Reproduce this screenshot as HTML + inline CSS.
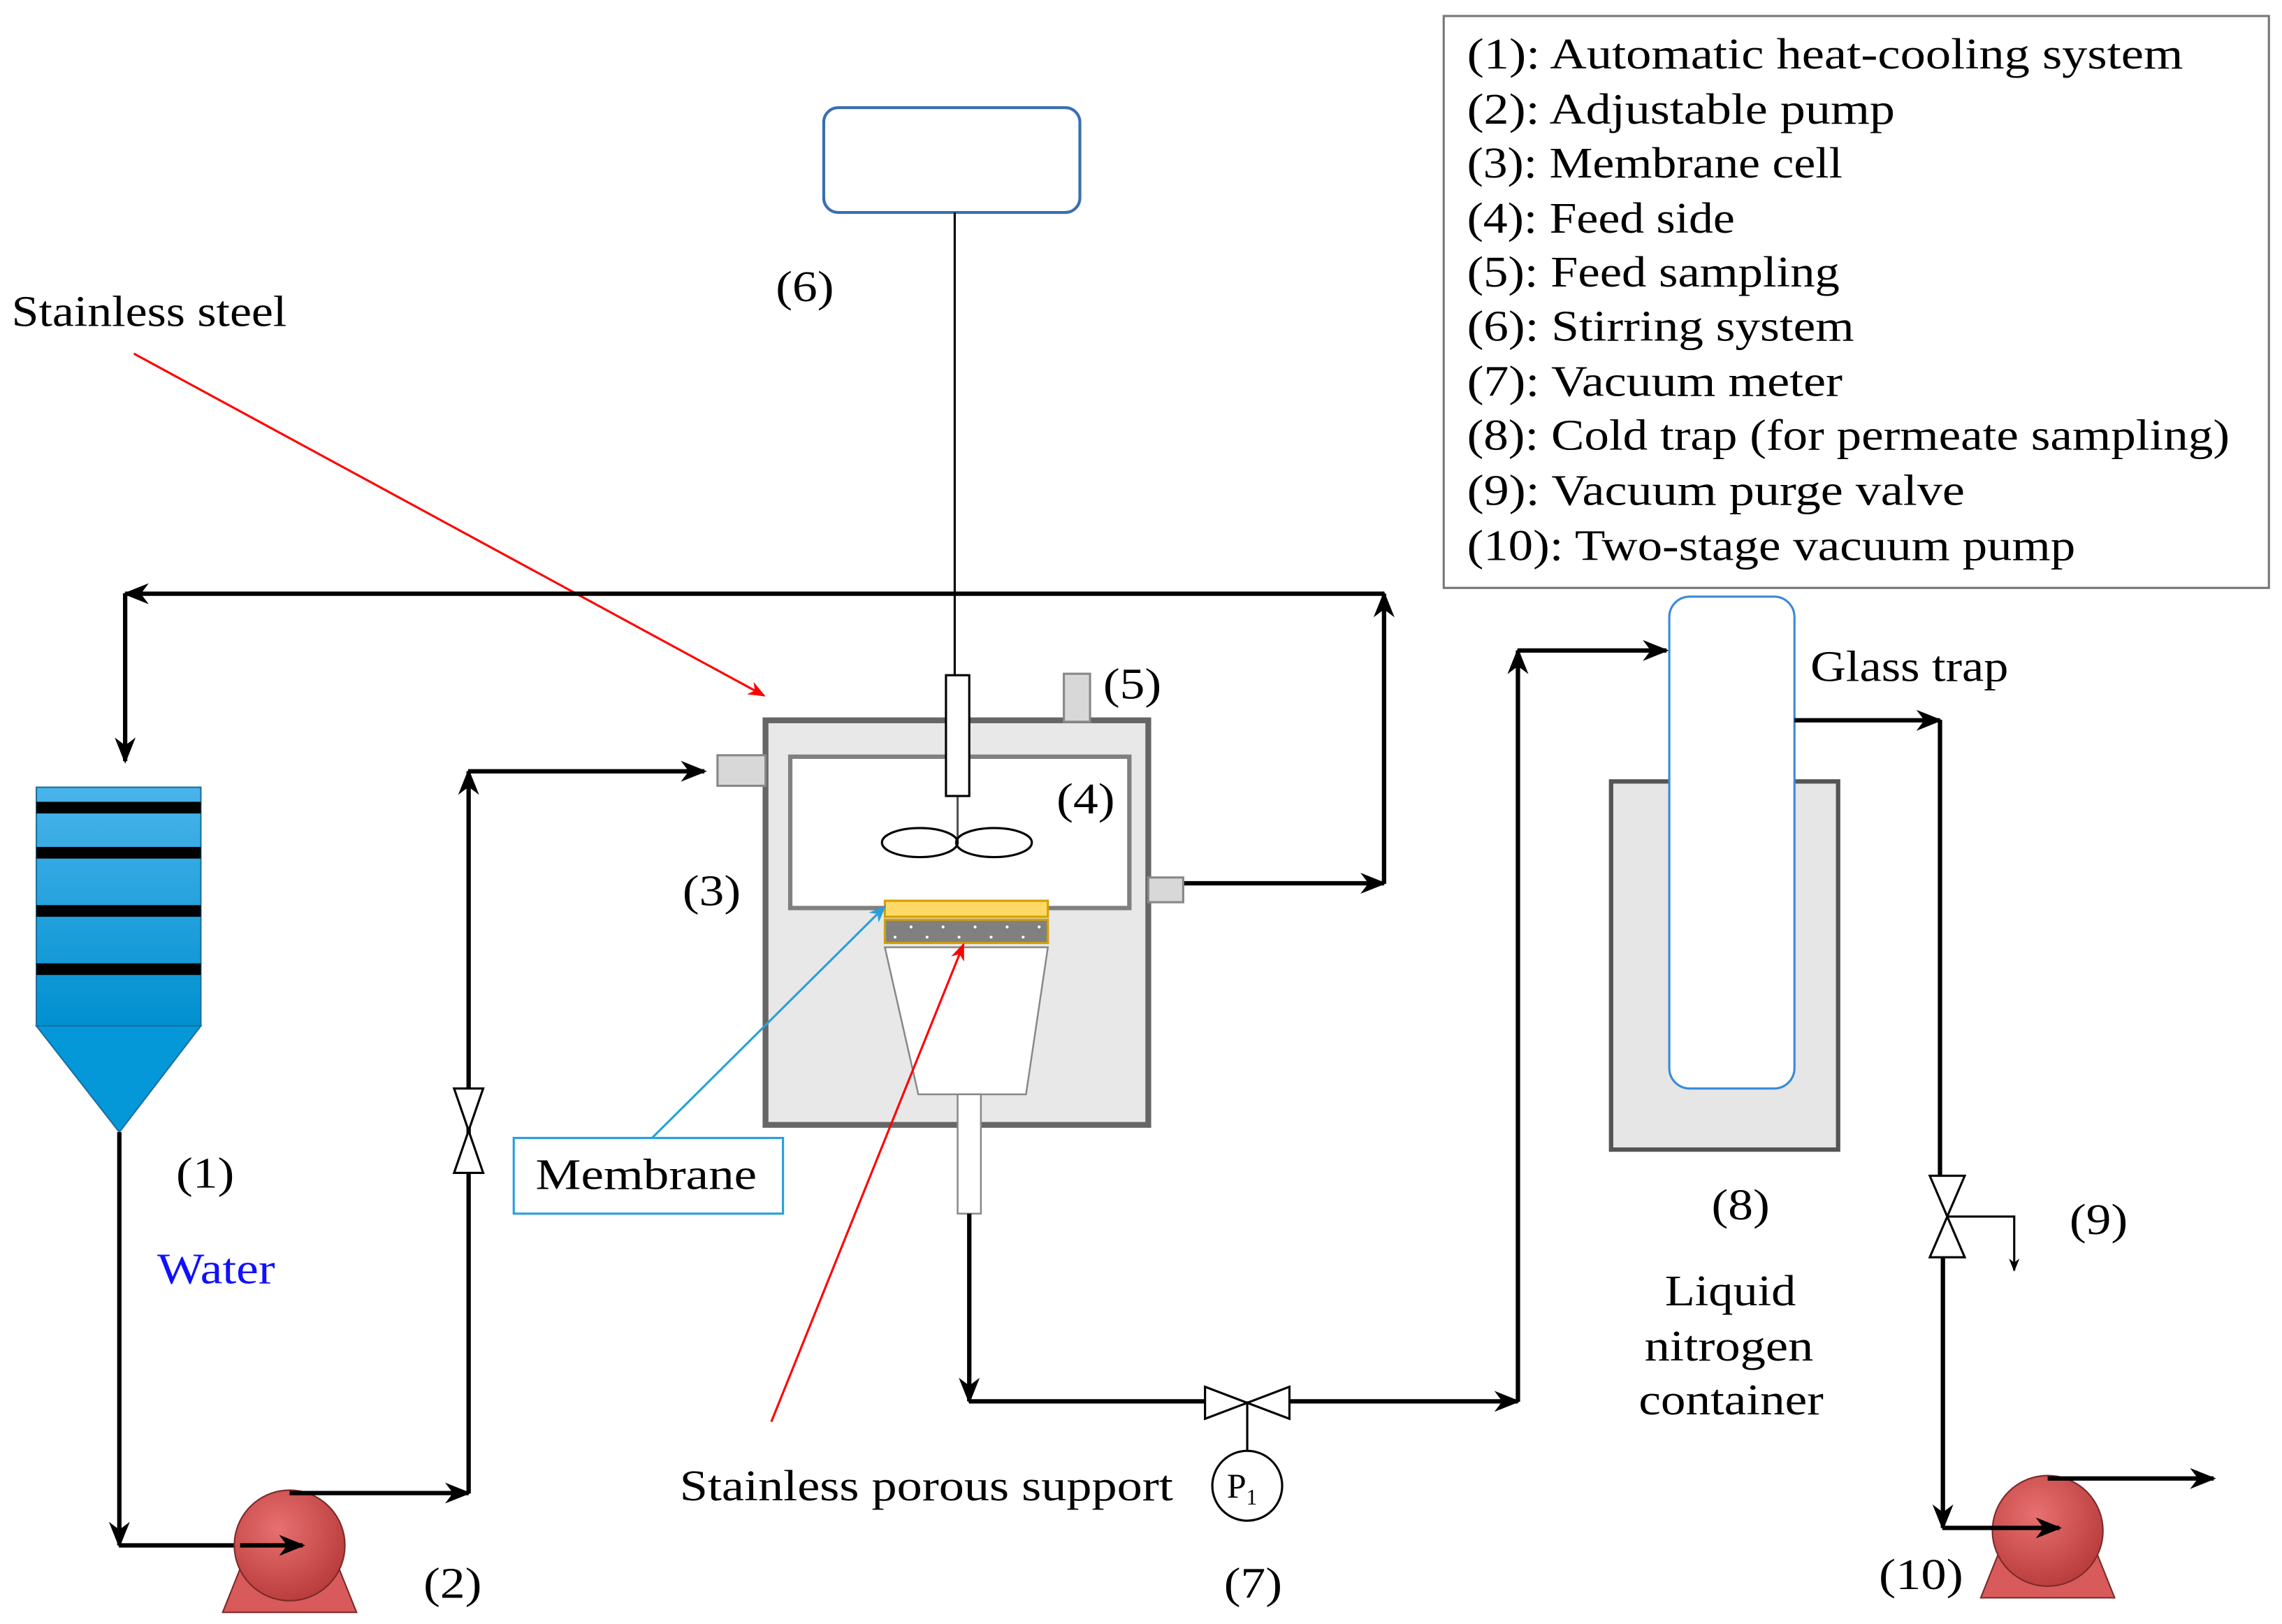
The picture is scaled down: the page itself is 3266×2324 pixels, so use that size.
<!DOCTYPE html>
<html><head><meta charset="utf-8"><style>
html,body{margin:0;padding:0;background:#fff;}
svg{display:block;}
text{font-family:"Liberation Serif",serif;font-size:30px;fill:#000;}
</style></head><body>
<svg width="3266" height="2324" viewBox="0 0 1568 1116" preserveAspectRatio="none" xmlns="http://www.w3.org/2000/svg">
<defs>
<marker id="ab" viewBox="0 0 10 10" refX="9" refY="5" markerWidth="6" markerHeight="6" orient="auto"><path d="M0,1 L10,5 L0,9 L3,5z" fill="#000"/></marker>
<marker id="ar" viewBox="0 0 10 10" refX="9" refY="5" markerWidth="8" markerHeight="8" orient="auto"><path d="M0,1 L10,5 L0,9 L3,5z" fill="#f00"/></marker>
<marker id="abl" viewBox="0 0 10 10" refX="9" refY="5" markerWidth="8" markerHeight="8" orient="auto"><path d="M0,1 L10,5 L0,9 L3,5z" fill="#29a0dc"/></marker>
<linearGradient id="blue" x1="0" y1="0" x2="0" y2="1"><stop offset="0" stop-color="#4ab4ea"/><stop offset="1" stop-color="#0090d0"/></linearGradient>
<radialGradient id="pump" cx="0.4" cy="0.35" r="0.7"><stop offset="0" stop-color="#e87070"/><stop offset="1" stop-color="#b83a3a"/></radialGradient>
</defs>

<!-- legend -->
<rect x="992" y="11" width="567" height="393" fill="#fff" stroke="#777" stroke-width="1.5"/>
<g lengthAdjust="spacingAndGlyphs">
<text x="1008" y="47" textLength="492" lengthAdjust="spacingAndGlyphs">(1): Automatic heat-cooling  system</text>
<text x="1008" y="85" textLength="294" lengthAdjust="spacingAndGlyphs">(2): Adjustable pump</text>
<text x="1008" y="122" textLength="258" lengthAdjust="spacingAndGlyphs">(3): Membrane cell</text>
<text x="1008" y="160" textLength="184" lengthAdjust="spacingAndGlyphs">(4): Feed side</text>
<text x="1008" y="197" textLength="256" lengthAdjust="spacingAndGlyphs">(5): Feed sampling</text>
<text x="1008" y="234" textLength="266" lengthAdjust="spacingAndGlyphs">(6): Stirring system</text>
<text x="1008" y="272" textLength="258" lengthAdjust="spacingAndGlyphs">(7): Vacuum meter</text>
<text x="1008" y="309" textLength="524" lengthAdjust="spacingAndGlyphs">(8): Cold  trap  (for permeate sampling)</text>
<text x="1008" y="347" textLength="342" lengthAdjust="spacingAndGlyphs">(9): Vacuum purge valve</text>
<text x="1008" y="385" textLength="418" lengthAdjust="spacingAndGlyphs">(10): Two-stage vacuum pump</text>
</g>

<!-- stirrer -->
<rect x="566" y="74" width="176" height="72" rx="10" fill="#fff" stroke="#3a6fb0" stroke-width="2"/>
<line x1="656" y1="146" x2="656" y2="464" stroke="#000" stroke-width="1.5"/>
<text x="533" y="207" textLength="40" lengthAdjust="spacingAndGlyphs">(6)</text>

<text x="8" y="224" textLength="189" lengthAdjust="spacingAndGlyphs">Stainless steel</text>
<line x1="92" y1="243" x2="525" y2="478" stroke="#f00" stroke-width="1.5" marker-end="url(#ar)"/>

<!-- top loop -->
<path d="M813,607 H951" stroke="#000" stroke-width="3" fill="none" marker-end="url(#ab)"/>
<path d="M951,607 V408" stroke="#000" stroke-width="3" fill="none" marker-end="url(#ab)"/>
<path d="M951,408 H86" stroke="#000" stroke-width="3" fill="none" marker-end="url(#ab)"/>
<path d="M86,408 V523" stroke="#000" stroke-width="3" fill="none" marker-end="url(#ab)"/>

<!-- tank -->
<rect x="25" y="541" width="113" height="164" fill="url(#blue)" stroke="#1a6fa0" stroke-width="1"/>
<rect x="25" y="551" width="113" height="8" fill="#000"/>
<rect x="25" y="582" width="113" height="8" fill="#000"/>
<rect x="25" y="622" width="113" height="8" fill="#000"/>
<rect x="25" y="662" width="113" height="8" fill="#000"/>
<path d="M25,705 H138 L82,778 Z" fill="#0498d8" stroke="#1a6fa0"/>
<text x="121" y="816" textLength="40" lengthAdjust="spacingAndGlyphs">(1)</text>
<text x="108" y="882" textLength="81" lengthAdjust="spacingAndGlyphs" style="fill:#1010ff">Water</text>

<path d="M82,778 V1062" stroke="#000" stroke-width="3" fill="none" marker-end="url(#ab)"/>
<path d="M82,1062 H208" stroke="#000" stroke-width="3" fill="none" marker-end="url(#ab)"/>
<!-- pump 2 -->
<path d="M165,1078 H233 L245,1108 H153 Z" fill="#d85a5a" stroke="#7a2a2a"/>
<circle cx="199" cy="1062" r="38" fill="url(#pump)" stroke="#7a2a2a"/>
<path d="M165,1062 H208" stroke="#000" stroke-width="3" marker-end="url(#ab)"/>
<text x="291" y="1098" textLength="40" lengthAdjust="spacingAndGlyphs">(2)</text>
<path d="M199,1026 H322" stroke="#000" stroke-width="3" fill="none" marker-end="url(#ab)"/>
<path d="M322,1026 V530" stroke="#000" stroke-width="3" fill="none" marker-end="url(#ab)"/>
<path d="M322,530 H484" stroke="#000" stroke-width="3" fill="none" marker-end="url(#ab)"/>
<path d="M312,748 H332 L312,806 H332 Z" fill="#fff" stroke="#000" stroke-width="1.5"/>

<!-- cell -->
<rect x="526" y="495" width="263" height="278" fill="#e8e8e8" stroke="#666" stroke-width="4"/>
<rect x="493" y="519" width="33" height="21" fill="#d8d8d8" stroke="#888" stroke-width="1.5"/>
<rect x="731" y="463" width="18" height="33" fill="#d8d8d8" stroke="#888" stroke-width="1.5"/>
<rect x="789" y="603" width="24" height="17" fill="#d8d8d8" stroke="#888" stroke-width="1.5"/>
<rect x="543" y="520" width="233" height="104" fill="#fff" stroke="#808080" stroke-width="3"/>
<line x1="658" y1="547" x2="658" y2="579" stroke="#555" stroke-width="1.5"/>
<rect x="650" y="464" width="16" height="83" fill="#fff" stroke="#000" stroke-width="1.5"/>
<ellipse cx="632" cy="579" rx="26" ry="10" fill="none" stroke="#000" stroke-width="1.5"/>
<ellipse cx="683" cy="579" rx="26" ry="10" fill="none" stroke="#000" stroke-width="1.5"/>
<rect x="608" y="619" width="112" height="11" fill="#ffd966" stroke="#d4a000" stroke-width="1.5"/>
<rect x="608" y="632" width="112" height="16" fill="#808080" stroke="#d4a000" stroke-width="1.5"/>
<g fill="#fff"><circle cx="615" cy="644" r="1"/><circle cx="626" cy="637" r="1"/><circle cx="637" cy="644" r="1"/><circle cx="648" cy="637" r="1"/><circle cx="659" cy="644" r="1"/><circle cx="670" cy="637" r="1"/><circle cx="681" cy="644" r="1"/><circle cx="692" cy="637" r="1"/><circle cx="703" cy="644" r="1"/><circle cx="714" cy="637" r="1"/></g>
<path d="M608,651 H720 L705,752 H631 Z" fill="#fff" stroke="#888" stroke-width="1.2"/>
<rect x="658" y="752" width="16" height="82" fill="#fff" stroke="#888" stroke-width="1.2"/>
<text x="469" y="622" textLength="40" lengthAdjust="spacingAndGlyphs">(3)</text>
<text x="726" y="559" textLength="40" lengthAdjust="spacingAndGlyphs">(4)</text>
<text x="758" y="480" textLength="40" lengthAdjust="spacingAndGlyphs">(5)</text>

<rect x="353" y="782" width="185" height="52" fill="#fff" stroke="#29a0dc" stroke-width="1.5"/>
<text x="368" y="817" textLength="152" lengthAdjust="spacingAndGlyphs">Membrane</text>
<line x1="448" y1="782" x2="608" y2="623" stroke="#29a0dc" stroke-width="1.5" marker-end="url(#abl)"/>
<line x1="530" y1="977" x2="662" y2="649" stroke="#f00" stroke-width="1.5" marker-end="url(#ar)"/>
<text x="467" y="1031" textLength="339" lengthAdjust="spacingAndGlyphs">Stainless porous support</text>

<!-- vacuum line -->
<path d="M666,834 V963" stroke="#000" stroke-width="3" fill="none" marker-end="url(#ab)"/>
<path d="M666,963 H828" stroke="#000" stroke-width="3" fill="none"/>
<path d="M828,953 V975 L886,953 V975 Z" fill="#fff" stroke="#000" stroke-width="1.5"/>
<line x1="857" y1="963" x2="857" y2="997" stroke="#000" stroke-width="1.5"/>
<circle cx="857" cy="1021" r="24" fill="#fff" stroke="#000" stroke-width="1.5"/>
<text x="843" y="1029" style="font-size:24px">P<tspan style="font-size:15px" dy="5">1</tspan></text>
<text x="841" y="1098" textLength="40" lengthAdjust="spacingAndGlyphs">(7)</text>
<path d="M886,963 H1043" stroke="#000" stroke-width="3" fill="none" marker-end="url(#ab)"/>
<path d="M1043,963 V447" stroke="#000" stroke-width="3" fill="none" marker-end="url(#ab)"/>
<path d="M1043,447 H1145" stroke="#000" stroke-width="3" fill="none" marker-end="url(#ab)"/>

<!-- cold trap -->
<rect x="1107" y="537" width="156" height="253" fill="#e6e6e6" stroke="#555" stroke-width="3"/>
<rect x="1147" y="410" width="86" height="338" rx="14" fill="#fff" stroke="#3a8ad8" stroke-width="1.5"/>
<text x="1244" y="468" textLength="136" lengthAdjust="spacingAndGlyphs">Glass trap</text>
<text x="1176" y="838" textLength="40" lengthAdjust="spacingAndGlyphs">(8)</text>
<text x="1144" y="897" textLength="90" lengthAdjust="spacingAndGlyphs">Liquid</text>
<text x="1130" y="935" textLength="116" lengthAdjust="spacingAndGlyphs">nitrogen</text>
<text x="1126" y="972" textLength="127" lengthAdjust="spacingAndGlyphs">container</text>

<path d="M1233,495 H1333" stroke="#000" stroke-width="3" fill="none" marker-end="url(#ab)"/>
<path d="M1333,495 V808" stroke="#000" stroke-width="3" fill="none"/>
<path d="M1335,864 V1050" stroke="#000" stroke-width="3" fill="none" marker-end="url(#ab)"/>
<path d="M1326,808 H1350 L1326,864 H1350 Z" fill="#fff" stroke="#000" stroke-width="1.5"/>
<path d="M1338,836 H1384 V873" stroke="#000" stroke-width="1.5" fill="none" marker-end="url(#ab)"/>
<text x="1422" y="848" textLength="40" lengthAdjust="spacingAndGlyphs">(9)</text>

<!-- pump 10 -->
<path d="M1373,1068 H1441 L1453,1098 H1361 Z" fill="#d85a5a" stroke="#7a2a2a"/>
<circle cx="1407" cy="1052" r="38" fill="url(#pump)" stroke="#7a2a2a"/>
<path d="M1335,1050 H1415" stroke="#000" stroke-width="3" marker-end="url(#ab)"/>
<path d="M1407,1016 H1521" stroke="#000" stroke-width="3" marker-end="url(#ab)"/>
<text x="1291" y="1092" textLength="58" lengthAdjust="spacingAndGlyphs">(10)</text>
</svg>
</body></html>
